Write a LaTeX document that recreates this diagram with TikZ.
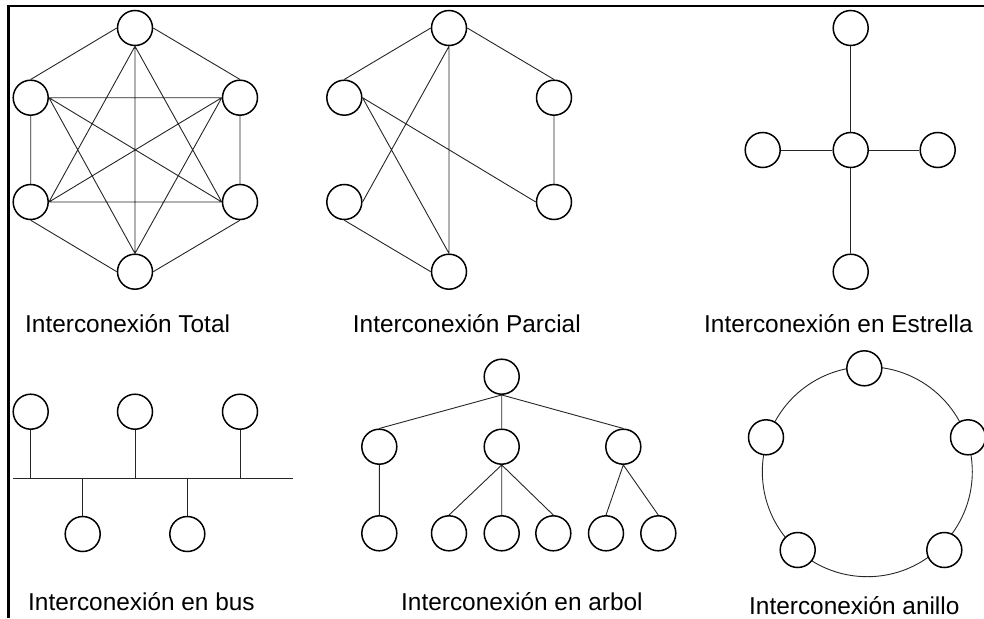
\documentclass[tikz,border=0pt]{standalone}
\usepackage{fontspec}
\setmainfont{Liberation Sans}
\begin{document}
\begin{tikzpicture}[x=1pt,y=-1pt,
  station/.style={circle,draw=black,line width=1.5pt,fill=white,minimum size=35pt,inner sep=0pt},
  link/.style={draw=black!85,line width=0.9pt},
  caption/.style={anchor=base west,inner sep=0pt,font=\fontsize{24.4}{28}\selectfont}]
\useasboundingbox (0,0) rectangle (984,618);

% frame edges
\draw[line width=2.6pt] (8.7,618) -- (8.7,6) -- (984,6);

% ---- full mesh ----
\node[station] (t1) at (135,28) {};
\node[station] (t2) at (30.7,97.7) {};
\node[station] (t3) at (240,97.7) {};
\node[station] (t4) at (30.7,202) {};
\node[station] (t5) at (240,202) {};
\node[station] (t6) at (135,271.7) {};
\path[link]
  (t1.west) -- (t2.north)
  (t1.east) -- (t3.north)
  (t1.south) -- (t4.east)
  (t1.south) -- (t5.west)
  (t1.south) -- (t6.north)
  (t2.east) -- (t3.west)
  (t2.south) -- (t4.north)
  (t2.east) -- (t5.west)
  (t2.east) -- (t6.north)
  (t3.west) -- (t4.east)
  (t3.south) -- (t5.north)
  (t3.west) -- (t6.north)
  (t4.east) -- (t5.west)
  (t4.south) -- (t6.west)
  (t5.south) -- (t6.east);
\node[caption] (capT) at (25,332) {Interconexión Total};

% ---- partial mesh ----
\node[station] (p1) at (449,28) {};
\node[station] (p2) at (344.3,97.7) {};
\node[station] (p3) at (554,97.7) {};
\node[station] (p4) at (344.3,202) {};
\node[station] (p5) at (554,202) {};
\node[station] (p6) at (449,271.7) {};
\path[link]
  (p1.west) -- (p2.north)
  (p1.east) -- (p3.north)
  (p1.south) -- (p4.east)
  (p1.south) -- (p6.north)
  (p2.east) -- (p6.north)
  (p2.east) -- (p5.west)
  (p3.south) -- (p5.north)
  (p4.south) -- (p6.west);
\node[caption] (capP) at (352.7,332) {Interconexión Parcial};

% ---- star ----
\node[station] (s0) at (850.7,150) {};
\node[station] (s1) at (850.7,28) {};
\node[station] (s2) at (762.7,150) {};
\node[station] (s3) at (937.7,150) {};
\node[station] (s4) at (850.7,271.7) {};
\path[link]
  (s1.south) -- (s0.north)
  (s2.east) -- (s0.west)
  (s0.east) -- (s3.west)
  (s0.south) -- (s4.north);
\node[caption] (capE) at (704,332) {Interconexión en Estrella};

% ---- bus ----
\coordinate (busL) at (13.3,478.3);
\coordinate (busR) at (292.7,478.3);
\path[link] (busL) -- (busR);
\node[station] (b1) at (30.7,411.7) {};
\node[station] (b2) at (135,411.7) {};
\node[station] (b3) at (240,411.7) {};
\node[station] (b4) at (82.7,534) {};
\node[station] (b5) at (187.3,534) {};
\path[link]
  (b1.south) -- (b1.south |- busL)
  (b2.south) -- (b2.south |- busL)
  (b3.south) -- (b3.south |- busL)
  (b4.north) -- (b4.north |- busL)
  (b5.north) -- (b5.north |- busL);
\node[caption] (capB) at (28,610) {Interconexión en bus};

% ---- tree ----
\node[station] (a0) at (501.7,376.7) {};
\node[station] (a1) at (379.3,446.7) {};
\node[station] (a2) at (501.7,446.7) {};
\node[station] (a3) at (623.3,446.7) {};
\node[station] (a4) at (379.3,533.3) {};
\node[station] (a5) at (449,533.3) {};
\node[station] (a6) at (501.7,533.3) {};
\node[station] (a7) at (553.3,533.3) {};
\node[station] (a8) at (606,533.3) {};
\node[station] (a9) at (658.3,533.3) {};
\path[link]
  (a0.south) -- (a1.north)
  (a0.south) -- (a2.north)
  (a0.south) -- (a3.north)
  (a1.south) -- (a4.north)
  (a2.south) -- (a5.north)
  (a2.south) -- (a6.north)
  (a2.south) -- (a7.north)
  (a3.south) -- (a8.north)
  (a3.south) -- (a9.north);
\node[caption] (capA) at (401,610) {Interconexión en arbol};

% ---- ring ----
\coordinate (rc) at (867.3,471.7);
\draw[link] (rc) circle[radius=105];
\node[station] (r1) at (864.3,368.3) {};
\node[station] (r2) at (766,437.3) {};
\node[station] (r3) at (968,437.3) {};
\node[station] (r4) at (797.7,550) {};
\node[station] (r5) at (944.3,550) {};
\node[caption] (capR) at (749,614) {Interconexión anillo};
\end{tikzpicture}
\end{document}
